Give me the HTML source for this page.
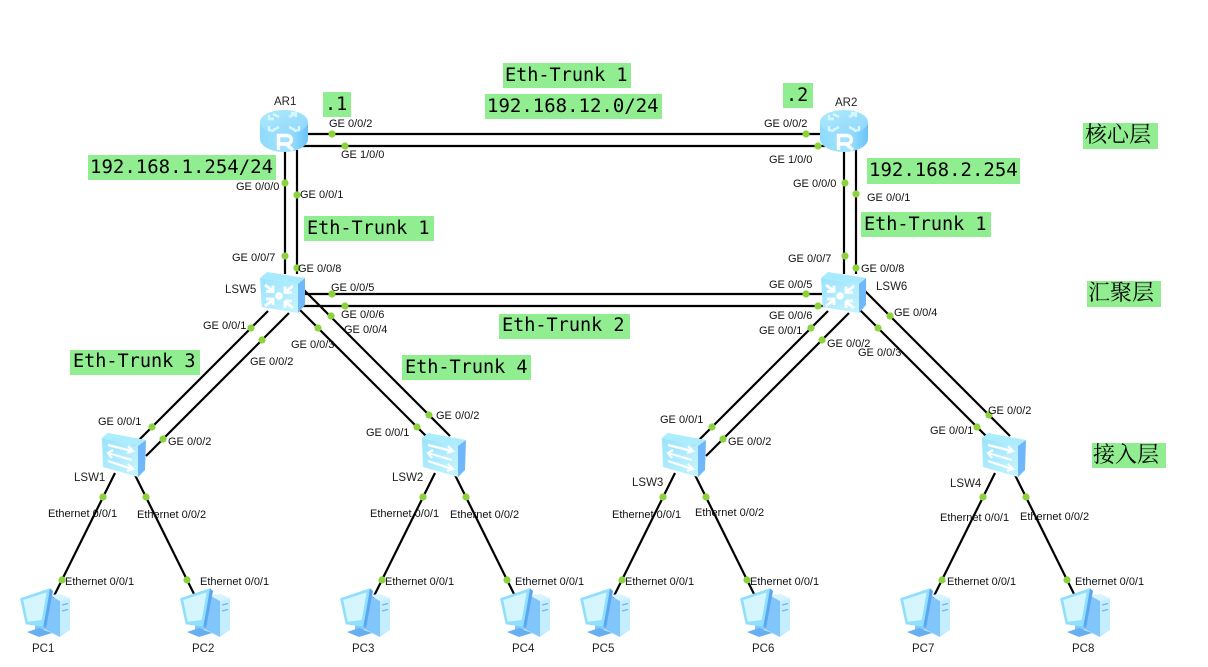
<!DOCTYPE html>
<html><head><meta charset="utf-8"><style>
html,body{margin:0;padding:0;background:#fff;width:1208px;height:667px;overflow:hidden}
svg{display:block}
.l{font:11px "Liberation Sans",sans-serif;fill:#111}
.n{font:11.5px "Liberation Sans",sans-serif;fill:#222}
.m{font:18.5px "DejaVu Sans Mono","Liberation Mono",monospace;fill:#000}
.ip{font-size:19px}
.c{font:22px "Noto Serif CJK SC","Liberation Serif",serif;fill:#000}
.g{fill:#90ee90}
.w{stroke:#000;stroke-width:2.2;fill:none}
.d{fill:#8cd23c}
</style></head><body>
<svg width="1208" height="667" viewBox="0 0 1208 667" xmlns="http://www.w3.org/2000/svg">
<defs>
<linearGradient id="cyl" x1="0" x2="1" y1="0" y2="0"><stop offset="0" stop-color="#8edafb"/><stop offset=".55" stop-color="#a2e5ff"/><stop offset="1" stop-color="#6cc3f7"/></linearGradient>
<linearGradient id="top" x1="0" x2="1" y1="0" y2="1"><stop offset="0" stop-color="#aeeafd"/><stop offset="1" stop-color="#8ed6fa"/></linearGradient>
<linearGradient id="front" x1="0" x2="1" y1="0" y2="1"><stop offset="0" stop-color="#98e3fd"/><stop offset="1" stop-color="#c8f4ff"/></linearGradient>
<symbol id="router" viewBox="0 0 48 42" width="48" height="42">
<path d="M0 12V29C0 36 11 42 24 42S48 36 48 29V12Z" fill="url(#cyl)"/>
<ellipse cx="24" cy="12" rx="24" ry="12" fill="url(#top)"/>
<g fill="none" stroke="#d8f6ff" stroke-width="2.4"><path d="M19 7l-6-3M14 9l-5 0v-4M29 7l6-3M31 3h5l0 4M19 17l-6 3M9 16v4l5 1M29 17l6 3M39 16v4l-5 1"/></g>
<path d="M18.500 40V25.500h8c6.500 0 6.500 8.500 0 8.500h-8M26 34l7 6" fill="none" stroke="#fff" stroke-width="3.400"/>
</symbol>
<symbol id="l3" viewBox="0 0 45 42" width="45" height="42">
<path d="M7 0L45 6 38 12 0 6Z" fill="#a8eaff"/>
<path d="M0 6L38 12 38 41 1.700 35Z" fill="url(#front)"/>
<path d="M38 12L45 6V33L38 41Z" fill="#6fb9fb"/>
<circle cx="19" cy="24" r="3.800" fill="#fff"/>
<g stroke="#fff" stroke-width="2.800" fill="none"><path d="M5 13l8 6M13 13.500v6H6M33 14l-8 6M25 14.500v6h7M5 34l8-6M6 27h7v6M33 36l-8-6M25 36v-7M25 29h7"/></g>
</symbol>
<symbol id="l2" viewBox="0 0 44 44" width="44" height="44">
<path d="M6 0L44 7 36 13 0 5Z" fill="#abecff"/>
<path d="M0 5L36 13V44L1 34Z" fill="url(#front)"/>
<path d="M36 13L44 7 43 37 36 44Z" fill="#6fb6fb"/>
<g fill="none" stroke="#fff" stroke-width="2.200"><path d="M6 12L30 18M26 13l5 5-6 2"/><path d="M30 27L6 20M11 17l-5 3 4 5"/><path d="M6 28L30 36M26 31l5 5-6 2"/></g>
</symbol>
<symbol id="pc" viewBox="0 0 52 50" width="52" height="50">
<path d="M30 7L40 6 50 10.300 40 13Z" fill="#d5f4ff"/>
<path d="M31 8L40 13V49L22 40Z" fill="#80c6fb"/>
<path d="M40 13L50 10.300V42L40 49Z" fill="#c4eeff"/>
<path d="M42 17l6-1.500M42 23l6-1.500" stroke="#6fb6ee" stroke-width="1.200"/>
<path d="M15 35L24 35 24 42 15 43Z" fill="#82c8f8"/>
<path d="M7 44L19 40 32 45 19 49Z" fill="#66aff2"/>
<path d="M0 10.300L30 .300 23.300 38.700 5.700 36.300Z" fill="#90dffc"/>
<path d="M30 .300L33 3 26 40 23.300 38.700Z" fill="#5ba7ef"/>
<path d="M3.300 12L26.700 4.300 21.700 32 7.700 33.700Z" fill="#d6f6ff"/>
</symbol>
</defs>

<g class="w">
<path d="M305 134H822M300 146H825"/>
<path d="M285 150V274M297 150V274M844 150V274M856 150V274"/>
<path d="M300 294H825M300 306H825"/>
<path d="M268 311L133 446M289 313L146 456"/>
<path d="M295 305L428 438M304 290L450 436"/>
<path d="M828 311L693 446M849 313L706 456"/>
<path d="M855 305L988 438M864 290L1010 436"/>
<path d="M115 473L52 600M135 475L197 600"/>
<path d="M435 473L372 600M455 475L517 600"/>
<path d="M675 473L612 600M695 475L757 600"/>
<path d="M995 473L932 600M1015 475L1077 600"/>
</g>

<use href="#router" x="260" y="110"/>
<use href="#router" x="820" y="110"/>
<use href="#l3" x="260" y="272"/>
<use href="#l3" x="821" y="272"/>
<use href="#l2" x="102" y="433"/>
<use href="#l2" x="422" y="433"/>
<use href="#l2" x="662" y="433"/>
<use href="#l2" x="982" y="433"/>
<use href="#pc" x="20" y="588"/>
<use href="#pc" x="180" y="588"/>
<use href="#pc" x="340" y="588"/>
<use href="#pc" x="500" y="588"/>
<use href="#pc" x="580" y="588"/>
<use href="#pc" x="740" y="588"/>
<use href="#pc" x="900" y="588"/>
<use href="#pc" x="1060" y="588"/>

<g class="d">
<circle cx="332" cy="134" r="3.600"/><circle cx="345" cy="146" r="3.600"/><circle cx="806" cy="134" r="3.600"/><circle cx="818" cy="146" r="3.600"/>
<circle cx="285" cy="183" r="3.600"/><circle cx="297" cy="195" r="3.600"/><circle cx="285" cy="256" r="3.600"/><circle cx="297" cy="268" r="3.600"/>
<circle cx="845" cy="183" r="3.600"/><circle cx="856" cy="194" r="3.600"/><circle cx="845" cy="256" r="3.600"/><circle cx="856" cy="268" r="3.600"/>
<circle cx="332" cy="294" r="3.600"/><circle cx="345" cy="306" r="3.600"/><circle cx="806" cy="294" r="3.600"/><circle cx="818" cy="306" r="3.600"/>
<circle cx="251" cy="328" r="3.600"/><circle cx="262" cy="340" r="3.600"/><circle cx="318" cy="328" r="3.600"/><circle cx="331" cy="316" r="3.600"/>
<circle cx="811" cy="328" r="3.600"/><circle cx="822" cy="340" r="3.600"/><circle cx="878" cy="328" r="3.600"/><circle cx="890" cy="316" r="3.600"/>
<circle cx="152" cy="427" r="3.600"/><circle cx="163" cy="439" r="3.600"/><circle cx="417" cy="427" r="3.600"/><circle cx="429" cy="415" r="3.600"/>
<circle cx="712" cy="427" r="3.600"/><circle cx="723" cy="439" r="3.600"/><circle cx="977" cy="427" r="3.600"/><circle cx="989" cy="415" r="3.600"/>
<circle cx="103" cy="497" r="3.600"/><circle cx="146" cy="497" r="3.600"/><circle cx="423" cy="497" r="3.600"/><circle cx="466" cy="497" r="3.600"/>
<circle cx="663" cy="497" r="3.600"/><circle cx="706" cy="497" r="3.600"/><circle cx="983" cy="497" r="3.600"/><circle cx="1026" cy="497" r="3.600"/>
<circle cx="62" cy="580" r="3.600"/><circle cx="187" cy="580" r="3.600"/><circle cx="382" cy="580" r="3.600"/><circle cx="507" cy="580" r="3.600"/>
<circle cx="622" cy="580" r="3.600"/><circle cx="747" cy="580" r="3.600"/><circle cx="942" cy="580" r="3.600"/><circle cx="1067" cy="580" r="3.600"/>
</g>

<g class="g">
<rect x="503" y="63" width="128" height="25"/><rect x="485" y="94" width="177" height="25"/>
<rect x="323" y="92" width="28" height="25"/><rect x="783" y="83" width="30" height="25"/>
<rect x="88" y="155" width="188" height="25"/><rect x="867" y="158" width="153" height="26"/>
<rect x="304" y="216" width="130" height="25"/><rect x="861" y="212" width="130" height="25"/>
<rect x="499" y="314" width="131" height="25"/><rect x="70" y="350" width="130" height="25"/><rect x="402" y="355" width="129" height="25"/>
<rect x="1083" y="123" width="75" height="26"/><rect x="1087" y="281" width="74" height="26"/><rect x="1092" y="443" width="74" height="25"/>
</g>

<g class="m">
<text x="505" y="81">Eth-Trunk 1</text><text class="ip" x="487" y="112">192.168.12.0/24</text>
<text x="325" y="110">.1</text><text x="786" y="101">.2</text>
<text class="ip" x="90" y="173">192.168.1.254/24</text><text class="ip" x="869" y="176">192.168.2.254</text>
<text x="307" y="234">Eth-Trunk 1</text><text x="864" y="230">Eth-Trunk 1</text>
<text x="502" y="331">Eth-Trunk 2</text><text x="73" y="367">Eth-Trunk 3</text><text x="405" y="373">Eth-Trunk 4</text>
</g>
<g class="c">
<text x="1085" y="142">核心层</text><text x="1088" y="300">汇聚层</text><text x="1093" y="462">接入层</text>
</g>

<g class="n">
<text x="274" y="105">AR1</text><text x="835" y="106">AR2</text>
<text x="225" y="293">LSW5</text><text x="876" y="290">LSW6</text>
<text x="74" y="481">LSW1</text><text x="392" y="481">LSW2</text><text x="632" y="486">LSW3</text><text x="950" y="487">LSW4</text>
<text x="32" y="652">PC1</text><text x="192" y="652">PC2</text><text x="352" y="652">PC3</text><text x="512" y="652">PC4</text>
<text x="592" y="652">PC5</text><text x="752" y="652">PC6</text><text x="912" y="652">PC7</text><text x="1072" y="652">PC8</text>
</g>
<g class="l">
<text x="329" y="127">GE 0/0/2</text><text x="341" y="158">GE 1/0/0</text><text x="764" y="127">GE 0/0/2</text><text x="769" y="163">GE 1/0/0</text>
<text x="236" y="190">GE 0/0/0</text><text x="300" y="198">GE 0/0/1</text><text x="232" y="261">GE 0/0/7</text><text x="298" y="272">GE 0/0/8</text>
<text x="331" y="291">GE 0/0/5</text><text x="341" y="318">GE 0/0/6</text><text x="344" y="333">GE 0/0/4</text><text x="291" y="348">GE 0/0/3</text>
<text x="203" y="329">GE 0/0/1</text><text x="250" y="365">GE 0/0/2</text>
<text x="793" y="187">GE 0/0/0</text><text x="867" y="201">GE 0/0/1</text><text x="788" y="262">GE 0/0/7</text><text x="861" y="272">GE 0/0/8</text>
<text x="769" y="288">GE 0/0/5</text><text x="769" y="319">GE 0/0/6</text><text x="759" y="334">GE 0/0/1</text><text x="827" y="347">GE 0/0/2</text><text x="858" y="356">GE 0/0/3</text><text x="894" y="316">GE 0/0/4</text>
<text x="98" y="425">GE 0/0/1</text><text x="168" y="445">GE 0/0/2</text><text x="366" y="436">GE 0/0/1</text><text x="436" y="419">GE 0/0/2</text>
<text x="660" y="423">GE 0/0/1</text><text x="728" y="445">GE 0/0/2</text><text x="930" y="434">GE 0/0/1</text><text x="988" y="414">GE 0/0/2</text>
<text x="48" y="517">Ethernet 0/0/1</text><text x="137" y="518">Ethernet 0/0/2</text><text x="370" y="517">Ethernet 0/0/1</text><text x="450" y="518">Ethernet 0/0/2</text>
<text x="612" y="518">Ethernet 0/0/1</text><text x="695" y="516">Ethernet 0/0/2</text><text x="940" y="521">Ethernet 0/0/1</text><text x="1020" y="520">Ethernet 0/0/2</text>
<text x="65" y="585">Ethernet 0/0/1</text><text x="200" y="585">Ethernet 0/0/1</text><text x="385" y="585">Ethernet 0/0/1</text><text x="515" y="585">Ethernet 0/0/1</text>
<text x="625" y="585">Ethernet 0/0/1</text><text x="750" y="585">Ethernet 0/0/1</text><text x="947" y="585">Ethernet 0/0/1</text><text x="1075" y="585">Ethernet 0/0/1</text>
</g>
</svg>
</body></html>
